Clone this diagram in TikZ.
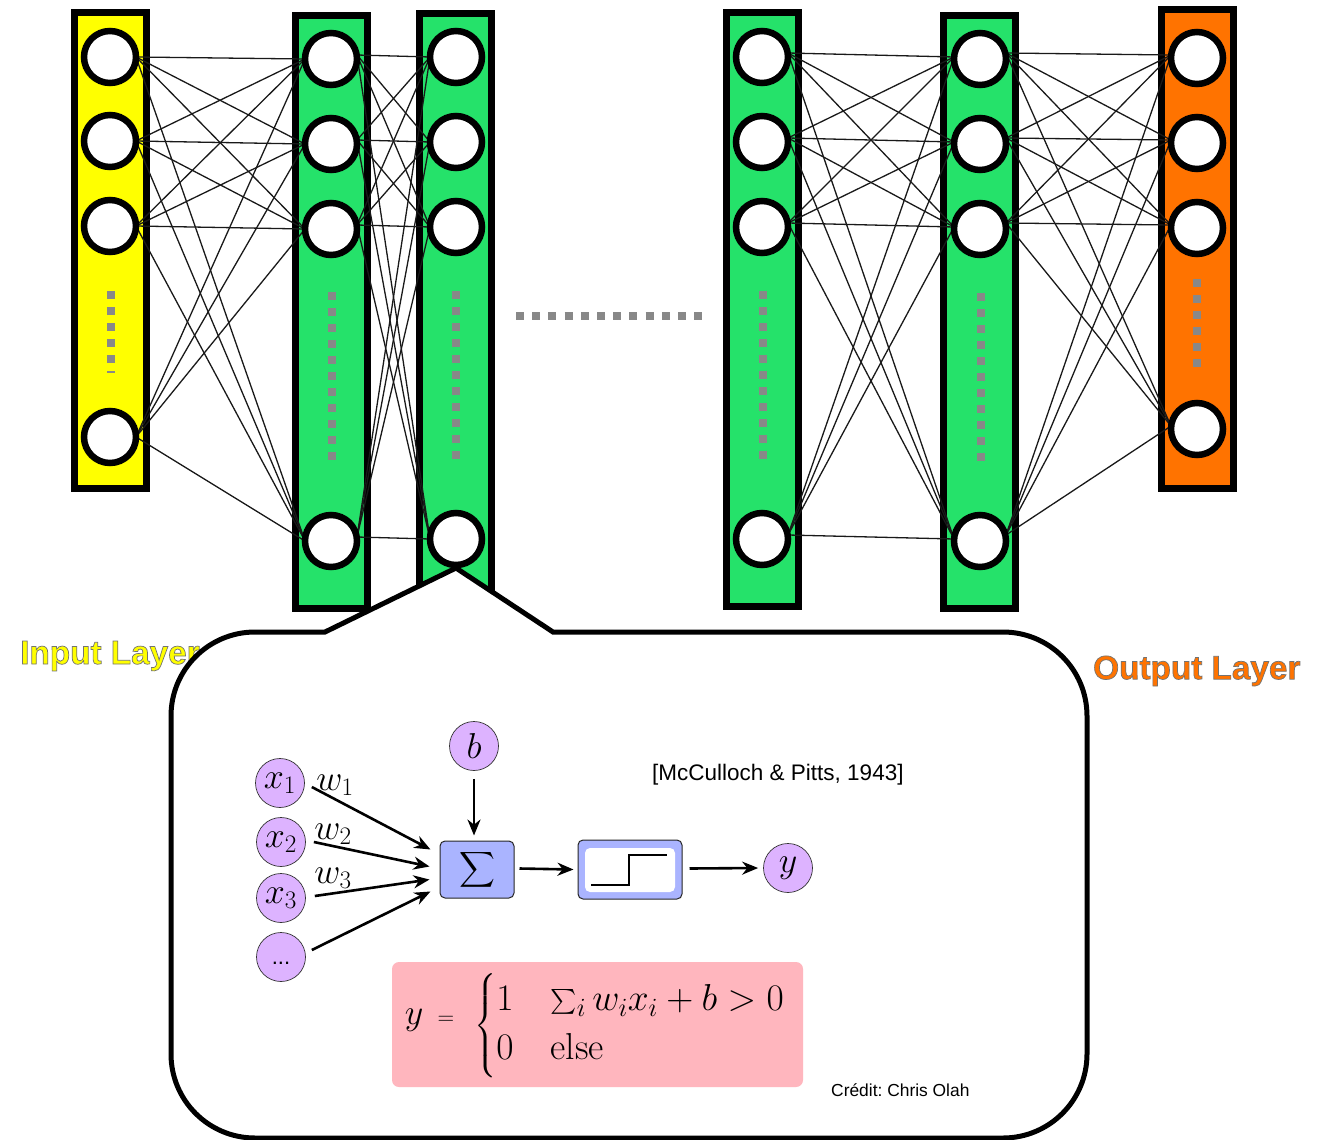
\RequirePackage{fix-cm}
\documentclass[tikz,border=0pt]{standalone}
\usepackage{amsmath}
\usepackage{fontspec}
\setmainfont{Liberation Sans}
\usetikzlibrary{calc,backgrounds,arrows.meta}
\definecolor{lgreen}{HTML}{25E26A}
\definecolor{lyellow}{HTML}{FFFF00}
\definecolor{lorange}{HTML}{FF7300}
\definecolor{npurple}{HTML}{DDB3FF}
\definecolor{nblue}{HTML}{AAB4FF}
\definecolor{npink}{HTML}{FFB6BE}
\definecolor{dotgray}{HTML}{888888}
\pgfdeclarelayer{bg}\pgfdeclarelayer{edges}\pgfdeclarelayer{top}
\pgfsetlayers{bg,edges,main,top}
\newcommand{\outlined}[1]{\special{pdf:code q 2 Tr 0.7 w 0.45 0.45 0.45 RG}#1\special{pdf:code Q}}
\tikzset{
  layerbox/.style={draw=black,line width=7pt,minimum width=72pt,inner sep=0pt,outer sep=0pt},
  neuron/.style={circle,draw=black,fill=white,line width=6.5pt,minimum size=52pt,inner sep=0pt,outer sep=0pt},
  link/.style={draw=black!90,line width=1.3pt},
  dots/.style={draw=dotgray,line width=8pt,dash pattern=on 8pt off 8pt},
  unit/.style={circle,draw=black!80,fill=npurple,line width=0.7pt,minimum size=49pt,inner sep=0pt,font=\fontsize{36}{36}\selectfont},
  blockbox/.style={draw=black!85,fill=nblue,line width=1pt,rounded corners=5pt,inner sep=0pt},
  flow/.style={-{Stealth[length=16pt,width=13pt]},line width=2.6pt,draw=black},
  wlabel/.style={inner sep=0pt,font=\fontsize{36}{36}\selectfont},
}
\begin{document}
\begin{tikzpicture}[x=1pt,y=-1pt]
\useasboundingbox (0,0) rectangle (1325,1140);
% neurons
\foreach \n/\x/\ya/\yb/\yc/\yd in {a/110/57/141/226/437,b/331/59/144/229/541,c/456/57/142/227/539,d/762/57/142/227/539,e/980/59/144/229/541,f/1197/58/143/228/429}{
  \node[neuron] (\n1) at (\x,\ya) {};
  \node[neuron] (\n2) at (\x,\yb) {};
  \node[neuron] (\n3) at (\x,\yc) {};
  \node[neuron] (\n4) at (\x,\yd) {};
}
% links
\begin{pgfonlayer}{edges}
\foreach \p/\q/\so/\eo in {a/b/0/0,b/c/-4/0,d/e/-4/-2,e/f/-6/-3}{
  \foreach \i in {1,2,3,4}{
    \foreach \j in {1,2,3,4}{
      \draw[link] ($(\p\i.east)+(0,\so)$) -- ($(\q\j.west)+(0,\eo)$);
    }
  }
}
\end{pgfonlayer}
% layer columns
\begin{pgfonlayer}{bg}
\node[layerbox,fill=lyellow,minimum height=475pt] (la) at (110,250.5) {};
\node[layerbox,fill=lgreen,minimum height=592pt] (lb) at (331.5,312) {};
\node[layerbox,fill=lgreen,minimum height=592pt] (lc) at (455.5,310) {};
\node[layerbox,fill=lgreen,minimum height=593pt] (ld) at (762,309.5) {};
\node[layerbox,fill=lgreen,minimum height=592pt] (le) at (979.5,312) {};
\node[layerbox,fill=lorange,minimum height=478pt] (lf) at (1197,249) {};
\end{pgfonlayer}
% vertical dots
\draw[dots] (110.5,291) -- (110.5,373);
\draw[dots] (331.5,292) -- (331.5,461);
\draw[dots] (456,291) -- (456,459);
\draw[dots] (762.5,291) -- (762.5,459);
\draw[dots] (980.5,293) -- (980.5,461);
\draw[dots] (1196.5,279) -- (1196.5,373);
\draw[dots,dash pattern=on 8pt off 8.2pt] (516,315.5) -- (702,315.5);
% layer labels
\node[anchor=west,inner sep=0pt,text=lyellow,font=\bfseries\fontsize{33.3}{36}\selectfont] (inlab) at (20,656) {\outlined{Input Layer}};
\node[anchor=west,inner sep=0pt,text=lorange,font=\bfseries\fontsize{33.3}{36}\selectfont] (outlab) at (1093,671) {\outlined{Output Layer}};
\begin{pgfonlayer}{top}
% callout
\draw[line width=5pt,fill=white,line join=miter]
  (325,632) -- (456,568) -- (553,632) -- (1003,632)
  arc[start angle=-90,end angle=0,radius=84] -- (1087,1054)
  arc[start angle=0,end angle=90,radius=84] -- (255,1138)
  arc[start angle=90,end angle=180,radius=84] -- (171,716)
  arc[start angle=180,end angle=270,radius=84] -- cycle;
% model
\node[unit] (x1) at (280,783) {\raisebox{-2pt}{$x_1$}};
\node[unit] (x2) at (281,842) {\raisebox{-2pt}{$x_2$}};
\node[unit] (x3) at (281,898) {\raisebox{-2pt}{$x_3$}};
\node[unit,font=\fontsize{22}{22}\selectfont] (x4) at (281,957) {\raisebox{-14pt}{...}};
\node[unit] (bias) at (474,746) {$b$};
\node[unit] (out) at (788,868) {$y$};
\node[blockbox,minimum width=74pt,minimum height=57pt,font=\fontsize{33}{33}\selectfont] (sum) at (477,869.5) {$\displaystyle\sum$};
\node[blockbox,minimum width=104pt,minimum height=59pt] (step) at (630,869.5) {};
\node[fill=white,rounded corners=5pt,minimum width=90pt,minimum height=44pt,inner sep=0pt] (stepin) at (630,870) {};
\draw[line width=1.5pt] ($(stepin.center)+(-39,15)$) -- ++(38,0) -- ++(0,-30) -- ++(38,0);
\draw[flow] ($(x1.east)+(7,4)$) -- ($(sum.west)+(-9,-20)$);
\draw[flow] ($(x2.east)+(8,0)$) -- ($(sum.west)+(-10,-3)$);
\draw[flow] ($(x3.east)+(9,-2)$) -- ($(sum.west)+(-10,10)$);
\draw[flow] ($(x4.east)+(6,-7)$) -- ($(sum.west)+(-9,22)$);
\draw[flow] ($(bias.south)+(0,8)$) -- ($(sum.north)+(-3,-5)$);
\draw[flow] ($(sum.east)+(5,-1)$) -- ($(step.west)+(-4,0)$);
\draw[flow] ($(step.east)+(7,-1)$) -- ($(out.west)+(-5,0)$);
\node[wlabel] (w1) at (335,785) {$w_1$};
\node[wlabel] (w2) at (333,834) {$w_2$};
\node[wlabel] (w3) at (333,878) {$w_3$};
\node[anchor=west,inner sep=0pt,font=\frenchspacing\fontsize{22.5}{23}\selectfont] (cite) at (652,775) {[McCulloch \& Pitts, 1943]};
\node[anchor=west,inner sep=0pt,font=\frenchspacing\fontsize{17.4}{18}\selectfont] (credit) at (831,1090) {Crédit: Chris Olah};
% formula
\node[fill=npink,rounded corners=7pt,minimum width=411pt,minimum height=125pt,inner sep=0pt] (pinkbox) at (597.5,1024.5) {};
\node[inner sep=0pt,font=\fontsize{36}{38}\selectfont] (fy) at (414,1020) {$y$};
\node[inner sep=0pt,font=\fontsize{23}{23}\selectfont] (feq) at (446,1020) {$=$};
\node[anchor=west,inner sep=0pt,font=\fontsize{37.5}{47}\selectfont] (fcases) at (474,1026) {$\left\{\begin{array}{@{}l@{\hspace{37pt}}l@{}}1 & \sum_i w_i x_i + b > 0\\[2pt] 0 & \text{\fontfamily{cmr}\selectfont else}\end{array}\right.$};
\end{pgfonlayer}
\end{tikzpicture}
\end{document}
